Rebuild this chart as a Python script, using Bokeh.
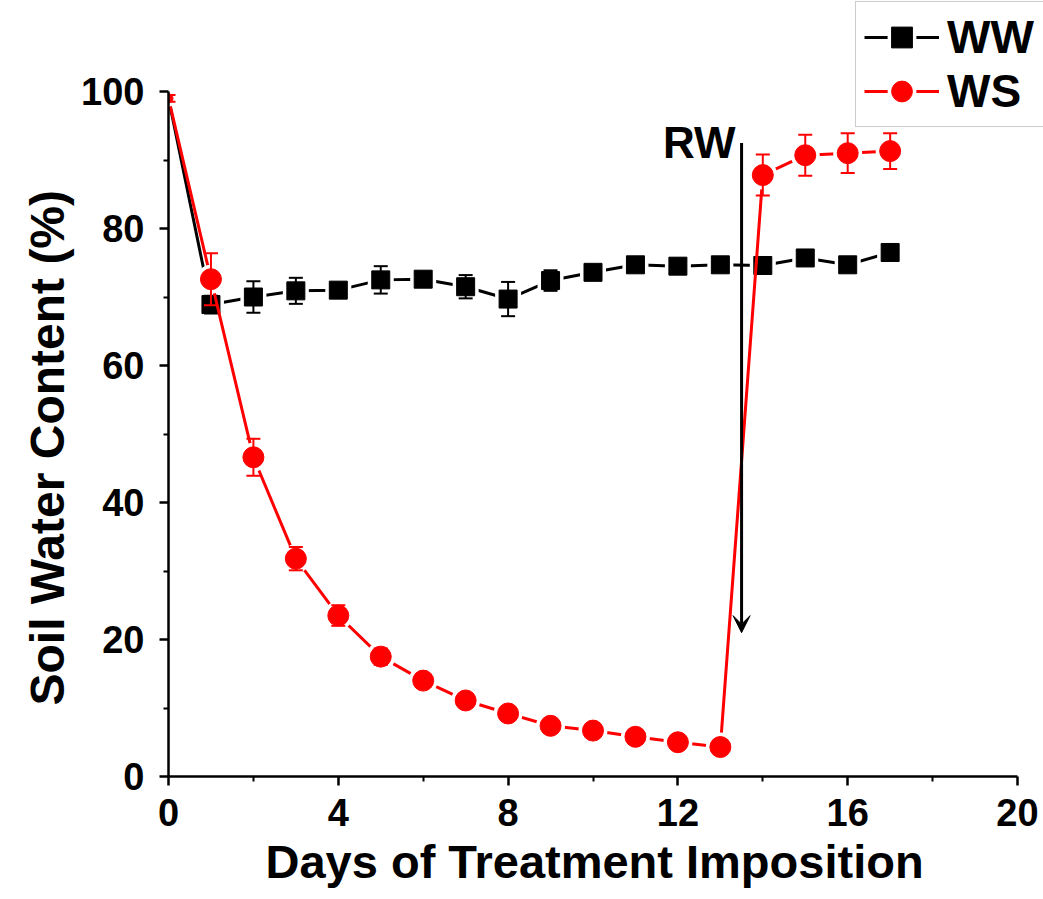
from bokeh.plotting import figure
from bokeh.models import (Range1d, ColumnDataSource, Legend, LegendItem, Arrow,
                          VeeHead, Label, FixedTicker, Title)
from bokeh.embed import file_html
from bokeh.resources import INLINE

# ---- data ----
days = [0, 1, 2, 3, 4, 5, 6, 7, 8, 9, 10, 11, 12, 13, 14, 15, 16, 17]
ww = [99.0, 68.9, 70.0, 70.9, 71.0, 72.5, 72.6, 71.5, 69.7, 72.4, 73.6, 74.7,
      74.5, 74.7, 74.6, 75.7, 74.7, 76.5]
ww_err = [0.5, 1.3, 2.3, 1.9, 0.8, 2.0, 0.8, 1.7, 2.5, 1.5, 0.8, 0.8,
          0.8, 0.8, 0.8, 0.8, 0.8, 0.8]
ws = [99.0, 72.6, 46.6, 31.8, 23.5, 17.5, 14.0, 11.1, 9.2, 7.4, 6.7, 5.8,
      5.0, 4.3, 87.8, 90.7, 91.0, 91.3]
ws_err = [0.5, 3.8, 2.7, 1.7, 1.5, 1.2, 0.8, 0.7, 0.7, 0.6, 0.6, 0.6,
          0.5, 0.5, 3.0, 3.0, 2.9, 2.6]
series_names = ["WW", "WS"]
x_title = "Days of Treatment Imposition"
y_title = "Soil Water Content (%)"
rw_label = "RW"
rw_day = 13.5
rw_top = 92.5
rw_tip = 21.0
x_axis_range = (0, 20)
y_axis_range = (0, 100)
x_ticks = [0, 4, 8, 12, 16, 20]
x_minor = [2, 6, 10, 14, 18]
y_ticks = [0, 20, 40, 60, 80, 100]
y_minor = [10, 30, 50, 70, 90]

FONT = "Liberation Sans"
COLORS = ["black", "#ff0000"]
MARKERS = ["square", "circle"]
MSIZES = [18, 21]

# page layout (pixels): where the axes' ends sit
W, H = 1043, 899
AX_LEFT, AX_RIGHT, AX_TOP, AX_BOTTOM = 168, 1017, 91, 776
# the frame extends to the top/right page edges so that the legend (which sits
# outside the axes box in the reference) is not clipped; the axes are bounded.
x_end = x_axis_range[0] + (x_axis_range[1] - x_axis_range[0]) * (W - AX_LEFT) / (AX_RIGHT - AX_LEFT)
y_end = y_axis_range[0] + (y_axis_range[1] - y_axis_range[0]) * (AX_BOTTOM - 0) / (AX_BOTTOM - AX_TOP)

p = figure(width=W, height=H, x_range=Range1d(x_axis_range[0], x_end),
           y_range=Range1d(y_axis_range[0], y_end),
           output_backend="svg", toolbar_location=None,
           min_border_left=AX_LEFT, min_border_right=0,
           min_border_top=0, min_border_bottom=H - AX_BOTTOM)
p.background_fill_color = "white"
p.border_fill_color = "white"
p.outline_line_color = None
p.xgrid.visible = False
p.ygrid.visible = False

p.xaxis.bounds = x_axis_range
p.yaxis.bounds = y_axis_range
p.xaxis.ticker = FixedTicker(ticks=x_ticks, minor_ticks=x_minor)
p.yaxis.ticker = FixedTicker(ticks=y_ticks, minor_ticks=y_minor)
for ax in (p.xaxis, p.yaxis):
    ax.axis_line_width = 2.5
    ax.axis_line_color = "black"
    ax.major_tick_line_width = 2.5
    ax.minor_tick_line_width = 2
    ax.major_tick_in = 0
    ax.major_tick_out = 9
    ax.minor_tick_in = 0
    ax.minor_tick_out = 5
    ax.major_label_text_font = FONT
    ax.major_label_text_font_style = "bold"
    ax.major_label_text_font_size = "38px"
    ax.major_label_text_color = "black"
p.xaxis.major_label_standoff = 13
p.yaxis.major_label_standoff = 15

# axis titles as side-panel titles, centred on the bounded axes (not on the frame)
p.add_layout(Title(text=x_title, align="left", offset=97, standoff=9,
                   text_font=FONT, text_font_style="bold", text_font_size="47px",
                   text_color="black"), "below")
p.add_layout(Title(text=y_title, align="left", offset=71, standoff=9,
                   text_font=FONT, text_font_style="bold", text_font_size="48px",
                   text_color="black"), "left")


def draw(vals, errs, color, marker, size):
    # the first point sits on the axes corner: the reference shows it mostly hidden,
    # so it is drawn small
    sizes = [9 if d == days[0] else size for d in days]
    src = ColumnDataSource(dict(
        x=days, y=vals, s=sizes,
        lo=[v - e for v, e in zip(vals, errs)],
        hi=[v + e for v, e in zip(vals, errs)]))
    line = p.line("x", "y", source=src, line_color=color, line_width=3)
    halo = p.scatter("x", "y", source=src, marker=marker, size="s",
                     fill_color="white", line_color="white", line_width=8)
    p.segment("x", "lo", "x", "hi", source=src, line_color=color, line_width=2)
    p.scatter("x", "hi", source=src, marker="dash", size=14, line_color=color, line_width=2)
    p.scatter("x", "lo", source=src, marker="dash", size=14, line_color=color, line_width=2)
    mk = p.scatter("x", "y", source=src, marker=marker, size="s",
                   fill_color=color, line_color=color, line_width=1)
    return [line, halo, mk]


ww_r = draw(ww, ww_err, COLORS[0], MARKERS[0], MSIZES[0])
ws_r = draw(ws, ws_err, COLORS[1], MARKERS[1], MSIZES[1])

p.add_layout(Arrow(x_start=rw_day, y_start=rw_top, x_end=rw_day, y_end=rw_tip,
                   line_color="black", line_width=3,
                   end=VeeHead(size=17, fill_color="black", line_color="black", line_width=1)))
p.add_layout(Label(x=rw_day, y=rw_top, x_offset=-6, text=rw_label,
                   text_align="right", text_baseline="alphabetic",
                   text_font=FONT, text_font_style="bold", text_font_size="44px",
                   text_color="black"))

# legend box: left edge at page x=855, bottom edge at page y=127, runs off the right edge
legend = Legend(items=[LegendItem(label=series_names[0], renderers=ww_r),
                       LegendItem(label=series_names[1], renderers=ws_r)],
                location=(855 - AX_LEFT, AX_BOTTOM - 127), margin=0, padding=8, spacing=0,
                glyph_width=75, glyph_height=52, label_height=52, label_standoff=8,
                label_width=100,
                label_text_font=FONT, label_text_font_style="bold",
                label_text_font_size="46px", label_text_color="black",
                border_line_color="#9a9a9a", border_line_width=1.5,
                background_fill_color="white", background_fill_alpha=1)
p.add_layout(legend)

open("out.html", "w").write(file_html(p, INLINE))
